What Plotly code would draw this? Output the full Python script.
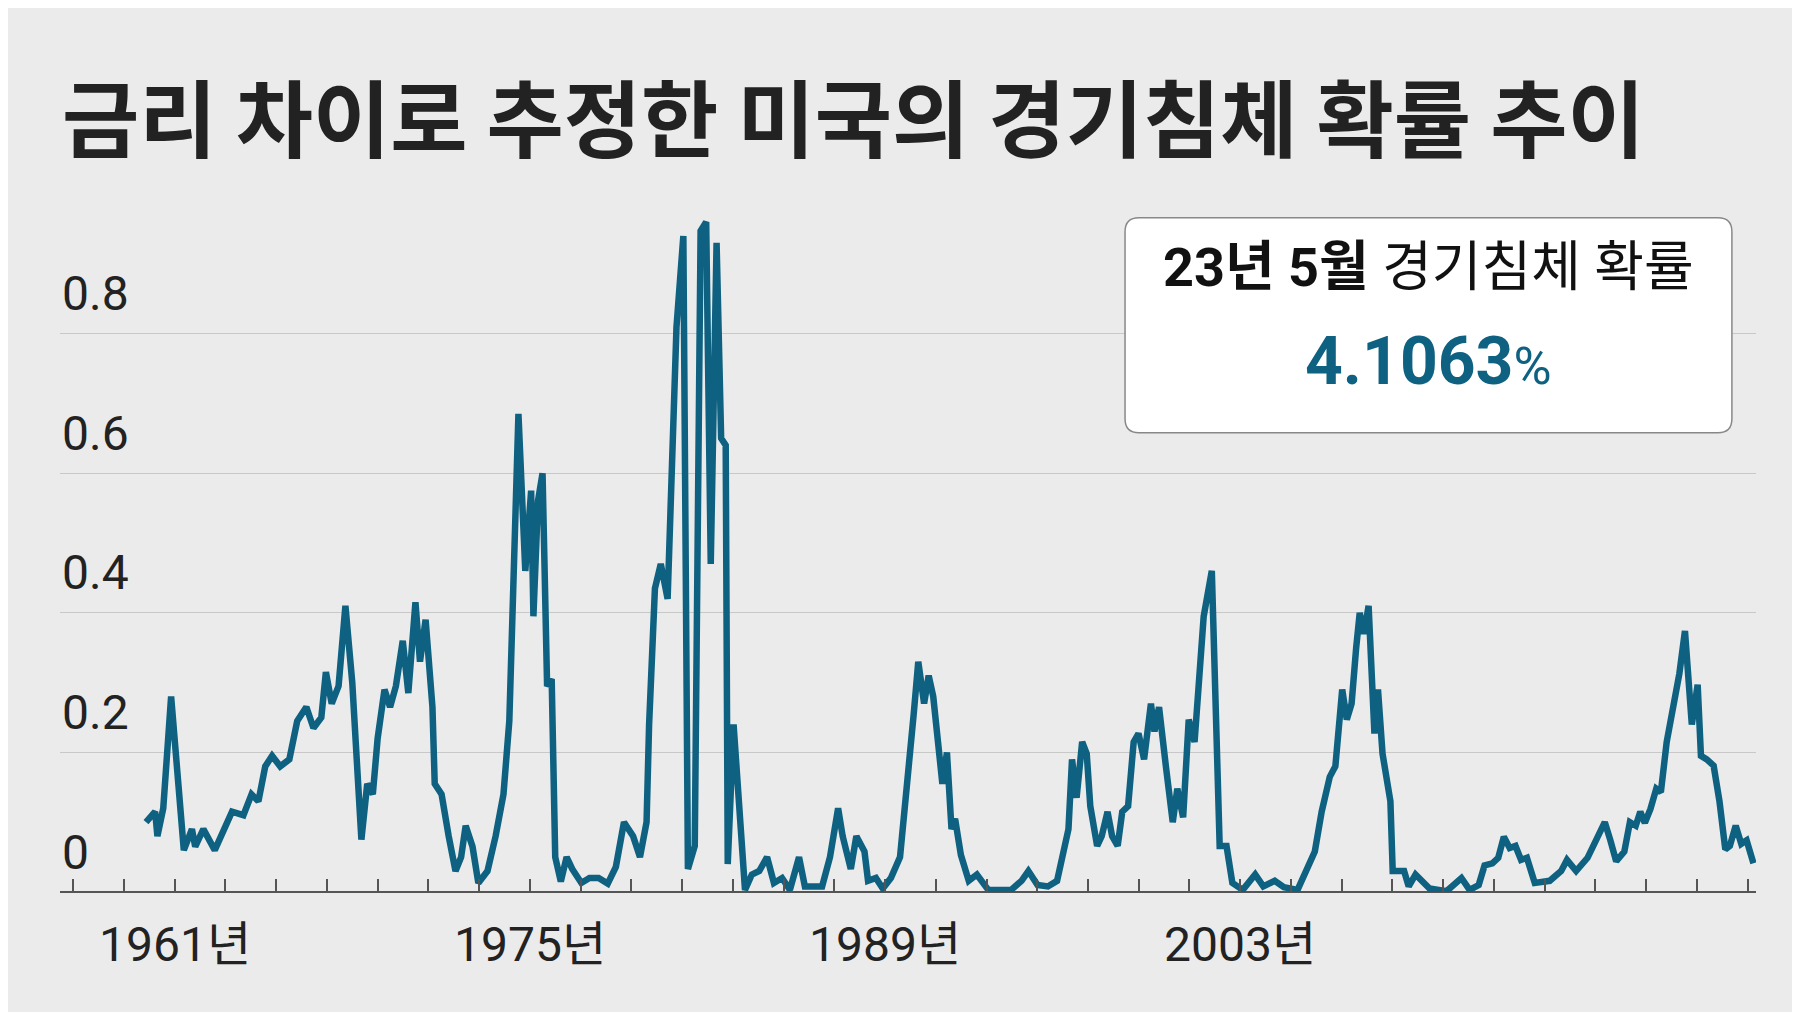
import plotly.graph_objects as go

years = [1959.87,1960.23,1960.32,1960.55,1960.86,1961.23,1961.36,1961.68,1961.81,1962.13,1962.58,1963.26,1963.71,1964.03,1964.30,1964.57,1964.84,1965.16,1965.52,1965.83,1966.19,1966.47,1966.78,1966.96,1967.19,1967.46,1967.73,1968.00,1968.18,1968.36,1968.59,1968.81,1969.00,1969.27,1969.49,1969.72,1969.99,1970.21,1970.49,1970.67,1970.89,1971.16,1971.25,1971.52,1971.80,1972.07,1972.29,1972.47,1972.74,1972.97,1973.33,1973.65,1973.96,1974.19,1974.55,1974.82,1975.05,1975.14,1975.32,1975.50,1975.68,1975.86,1976.00,1976.22,1976.45,1976.67,1977.03,1977.35,1977.71,1978.07,1978.39,1978.71,1979.07,1979.34,1979.60,1979.70,1979.93,1980.16,1980.43,1980.60,1980.78,1981.05,1981.23,1981.50,1981.73,1981.95,1982.13,1982.36,1982.54,1982.72,1982.80,1983.03,1983.25,1983.48,1983.75,1984.04,1984.35,1984.62,1984.94,1985.25,1985.61,1985.84,1986.52,1986.83,1987.15,1987.33,1987.65,1987.87,1988.19,1988.33,1988.64,1988.91,1989.23,1989.59,1990.13,1990.31,1990.54,1990.72,1990.90,1991.08,1991.26,1991.44,1991.62,1991.76,1991.99,1992.30,1992.62,1993.07,1993.97,1994.38,1994.65,1995.01,1995.42,1995.78,1996.23,1996.37,1996.55,1996.77,1996.95,1997.09,1997.36,1997.54,1997.77,1997.95,1998.17,1998.35,1998.58,1998.80,1998.99,1999.21,1999.48,1999.62,1999.80,2000.07,2000.34,2000.52,2000.75,2000.97,2001.20,2001.56,2001.88,2002.19,2002.46,2002.69,2003.10,2003.59,2003.91,2004.36,2004.72,2005.26,2005.94,2006.21,2006.53,2006.75,2007.02,2007.20,2007.39,2007.57,2007.71,2007.88,2008.06,2008.29,2008.43,2008.61,2008.74,2008.92,2009.01,2009.46,2009.64,2009.91,2010.46,2011.13,2011.72,2012.04,2012.40,2012.63,2012.94,2013.17,2013.39,2013.62,2013.85,2014.07,2014.30,2014.61,2015.20,2015.65,2015.88,2016.24,2016.69,2017.01,2017.37,2017.59,2017.82,2018.14,2018.36,2018.59,2018.77,2018.95,2019.17,2019.40,2019.58,2019.81,2020.17,2020.31,2020.53,2020.80,2021.03,2021.16,2021.39,2021.66,2021.89,2022.12,2022.30,2022.53,2022.75,2022.96,2023.23]

prob = [0.10,0.115,0.08,0.12,0.28,0.13,0.06,0.09,0.065,0.09,0.06,0.115,0.11,0.14,0.13,0.18,0.195,0.18,0.19,0.245,0.265,0.235,0.25,0.315,0.27,0.295,0.41,0.30,0.165,0.075,0.155,0.14,0.22,0.29,0.265,0.295,0.36,0.285,0.415,0.33,0.39,0.265,0.155,0.14,0.08,0.03,0.05,0.095,0.065,0.013,0.03,0.08,0.14,0.245,0.685,0.46,0.575,0.395,0.56,0.60,0.295,0.305,0.05,0.015,0.05,0.033,0.013,0.02,0.02,0.012,0.036,0.10,0.08,0.05,0.10,0.24,0.435,0.47,0.42,0.61,0.81,0.94,0.033,0.066,0.947,0.96,0.47,0.93,0.65,0.64,0.04,0.24,0.115,0.003,0.025,0.03,0.05,0.013,0.02,0.003,0.05,0.008,0.008,0.05,0.12,0.08,0.033,0.08,0.058,0.016,0.02,0.005,0.02,0.05,0.255,0.33,0.27,0.31,0.28,0.205,0.155,0.20,0.09,0.105,0.053,0.016,0.025,0.003,0.003,0.016,0.03,0.01,0.008,0.016,0.09,0.19,0.135,0.215,0.198,0.123,0.066,0.08,0.115,0.08,0.066,0.115,0.123,0.215,0.227,0.19,0.27,0.23,0.265,0.18,0.10,0.148,0.107,0.247,0.215,0.395,0.46,0.066,0.066,0.013,0.003,0.025,0.008,0.016,0.007,0.003,0.058,0.115,0.165,0.18,0.29,0.247,0.27,0.35,0.40,0.37,0.41,0.227,0.29,0.198,0.165,0.13,0.03,0.03,0.008,0.025,0.005,0.001,0.02,0.003,0.01,0.038,0.041,0.049,0.079,0.063,0.066,0.046,0.049,0.013,0.016,0.03,0.046,0.03,0.049,0.074,0.10,0.074,0.044,0.058,0.10,0.095,0.115,0.099,0.119,0.148,0.143,0.215,0.29,0.313,0.374,0.24,0.297,0.195,0.19,0.181,0.13,0.061,0.066,0.095,0.069,0.074,0.041]

ytick_vals = [0, 0.2, 0.4, 0.6, 0.8]
ytick_text = ["0", "0.2", "0.4", "0.6", "0.8"]
xtick_vals = [1961, 1975, 1989, 2003, 2023]
xtick_text = ["1961년", "1975년", "1989년", "2003년", "2023년"]

FONT = "Roboto, Noto Sans CJK KR"
CJK = "Noto Sans CJK KR"
TEAL = "#0e6180"

fig = go.Figure(go.Scatter(x=years, y=prob, mode="lines",
                           line=dict(color=TEAL, width=6.5), hoverinfo="skip"))

X0, X1 = 1956.48, 2023.33
fig.update_layout(
    width=1800, height=1012, paper_bgcolor="#ebebeb", plot_bgcolor="#ebebeb",
    margin=dict(l=52, r=52, t=200, b=128), showlegend=False,
    xaxis=dict(range=[X0, X1], showgrid=False, zeroline=False, showticklabels=False,
               ticks="inside", tick0=1961, dtick=2, ticklen=13, tickcolor="#555",
               tickwidth=1.5, showline=False),
    yaxis=dict(range=[0, 0.98], tickvals=ytick_vals[1:], showticklabels=False,
               gridcolor="#c8c8c8", gridwidth=1.2, zeroline=True,
               zerolinecolor="#555", zerolinewidth=1.5),
)

for v, t in zip(ytick_vals, ytick_text):
    fig.add_annotation(x=0, xref="paper", xanchor="left", y=v, yref="y",
                       yshift=40, text=t, showarrow=False,
                       font=dict(family=FONT, size=48, color="#222"))
for v, t in zip(xtick_vals, xtick_text):
    last = v == xtick_vals[-1]
    fig.add_annotation(x=X1 + 0.8 if last else v, xref="x", y=0, yref="y", yshift=-52,
                       text=t, showarrow=False, xanchor="right" if last else "center",
                       font=dict(family=FONT, size=48, color="#222"))

fig.add_annotation(x=0, xref="paper", xanchor="left", y=1 + (200 - 106) / 684,
                   yref="paper", yanchor="middle",
                   text="<b>금리 차이로 추정한 미국의 경기침체 확률 추이</b>",
                   showarrow=False, font=dict(family=CJK, size=84, color="#222"))

# rounded box
bx0, bx1, by0, by1 = 1998.46, 2022.38, 0.658, 0.966
rx, ry = 0.55, 0.02
path = (f"M {bx0+rx},{by1} L {bx1-rx},{by1} Q {bx1},{by1} {bx1},{by1-ry} "
        f"L {bx1},{by0+ry} Q {bx1},{by0} {bx1-rx},{by0} L {bx0+rx},{by0} "
        f"Q {bx0},{by0} {bx0},{by0+ry} L {bx0},{by1-ry} Q {bx0},{by1} {bx0+rx},{by1} Z")
fig.add_shape(type="path", path=path, xref="x", yref="y", fillcolor="white",
              line=dict(color="#888", width=1.5))
fig.add_annotation(x=(bx0+bx1)/2, y=0.895, xref="x", yref="y", showarrow=False,
                   text="<b>23년 5월</b> 경기침체 확률",
                   font=dict(family=FONT, size=54, color="#111"))
fig.add_annotation(x=(bx0+bx1)/2, y=0.76, xref="x", yref="y", showarrow=False,
                   text="<b>4.1063</b><span style='font-size:52px'>%</span>",
                   font=dict(family=FONT, size=66, color=TEAL))

fig.write_html("out.html")
